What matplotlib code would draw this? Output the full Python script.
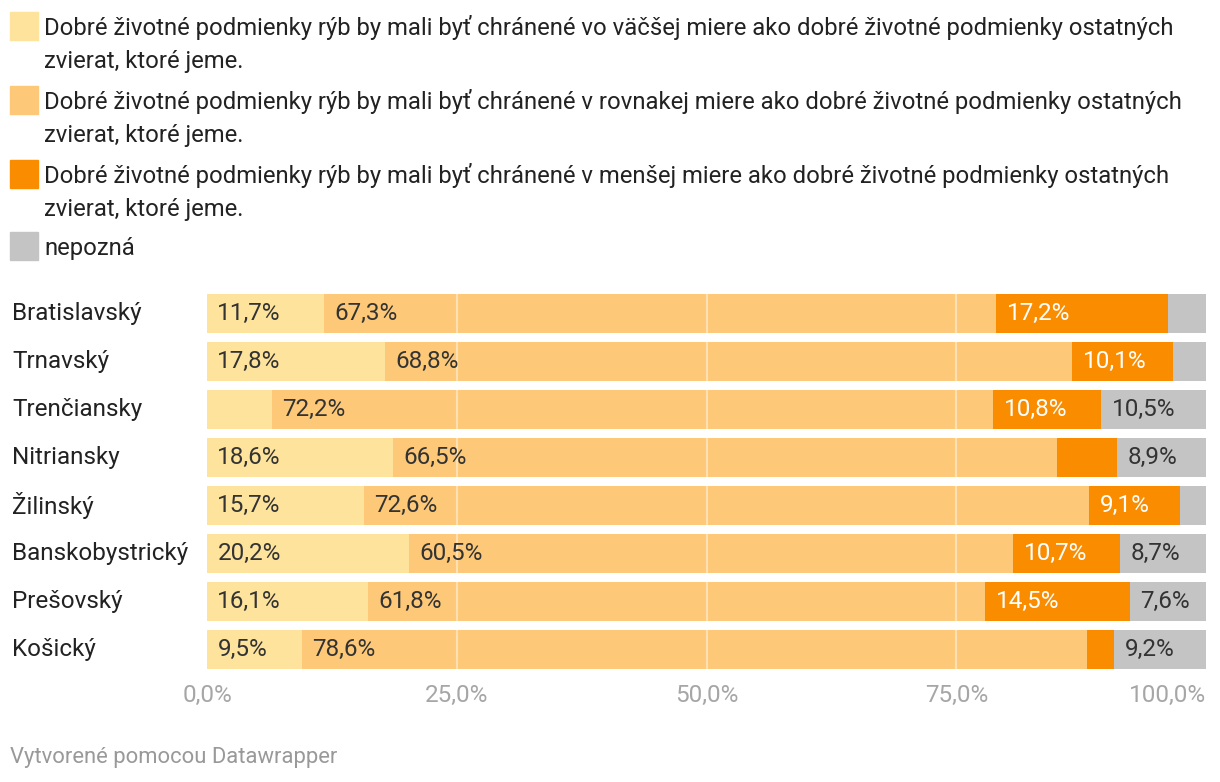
import matplotlib
matplotlib.use("Agg")
import matplotlib.pyplot as plt
from matplotlib.patches import Rectangle
from matplotlib.transforms import blended_transform_factory
import numpy as np

plt.rcParams['font.family'] = ['Roboto', 'DejaVu Sans']

# === Data ===
regions = ["Bratislavský", "Trnavský", "Trenčiansky", "Nitriansky", "Žilinský",
           "Banskobystrický", "Prešovský", "Košický"]
more = [11.7, 17.8, 6.5, 18.6, 15.7, 20.2, 16.1, 9.5]
equal = [67.3, 68.8, 72.2, 66.5, 72.6, 60.5, 61.8, 78.6]
less = [17.2, 10.1, 10.8, 6.0, 9.1, 10.7, 14.5, 2.7]
unknown = [3.8, 3.3, 10.5, 8.9, 2.6, 8.7, 7.6, 9.2]

legend_labels = [
    "Dobré životné podmienky rýb by mali byť chránené vo väčšej miere ako dobré životné podmienky ostatných\nzvierat, ktoré jeme.",
    "Dobré životné podmienky rýb by mali byť chránené v rovnakej miere ako dobré životné podmienky ostatných\nzvierat, ktoré jeme.",
    "Dobré životné podmienky rýb by mali byť chránené v menšej miere ako dobré životné podmienky ostatných\nzvierat, ktoré jeme.",
    "nepozná",
]
x_ticks = [0, 25, 50, 75, 100]
x_ticklabels = ["0,0%", "25,0%", "50,0%", "75,0%", "100,0%"]

colors = ["#fee39c", "#fdc978", "#fa8c00", "#c4c4c4"]
text_colors = ["#333333", "#333333", "#ffffff", "#333333"]

FS = 17.5
W, H = 1220, 782
fig = plt.figure(figsize=(W / 100, H / 100), dpi=100)
ax = fig.add_axes([207 / W, 1 - 669 / H, (1206 - 207) / W, (669 - 294) / H])

series = [more, equal, less, unknown]
y = np.arange(len(regions))
left = np.zeros(len(regions))
for vals, col, tcol in zip(series, colors, text_colors):
    vals = np.array(vals)
    ax.barh(y, vals, left=left, height=0.81, color=col, zorder=1, linewidth=0)
    for yi, (l, v) in enumerate(zip(left, vals)):
        if v >= 7:
            ax.annotate(f"{v:.1f}%".replace(".", ","), (l, yi), xytext=(7.5, 0),
                        textcoords="offset points", ha="left", va="center",
                        fontsize=FS, color=tcol, zorder=3)
    left = left + vals

# grid lines over bars
for t in x_ticks[1:-1]:
    ax.axvline(t, color="white", alpha=0.45, lw=1.5, zorder=2)

ax.set_xlim(0, 100)
ax.set_ylim(len(regions) - 1 + 0.405, -0.405)
ax.set_yticks([])
ax.set_xticks(x_ticks)
ax.set_xticklabels(x_ticklabels, fontsize=FS, color="#a6a6a6")
ax.get_xticklabels()[-1].set_ha("right")
ax.tick_params(axis="x", length=0, pad=11)
for s in ax.spines.values():
    s.set_visible(False)

# region names
trans = blended_transform_factory(fig.transFigure, ax.transData)
for yi, name in enumerate(regions):
    ax.text(12 / W, yi, name, transform=trans, ha="left", va="center",
            fontsize=FS, color="#222222")

# === Legend ===
square_top = [12, 86, 160, 232]
for top, lab, col in zip(square_top, legend_labels, colors):
    fig.patches.append(Rectangle((10 / W, 1 - (top + 28) / H), 28 / W, 28 / H,
                                 transform=fig.transFigure, color=col))
    for i, line in enumerate(lab.split("\n")):
        fig.text(44 / W, 1 - (top + 23 + 33 * i) / H, line, ha="left",
                 va="baseline", fontsize=17.2, color="#222222")

fig.text(10 / W, 1 - 757 / H, "Vytvorené pomocou Datawrapper", ha="left",
         va="center", fontsize=15.8, color="#999999")

fig.savefig("out.png", dpi=100)
